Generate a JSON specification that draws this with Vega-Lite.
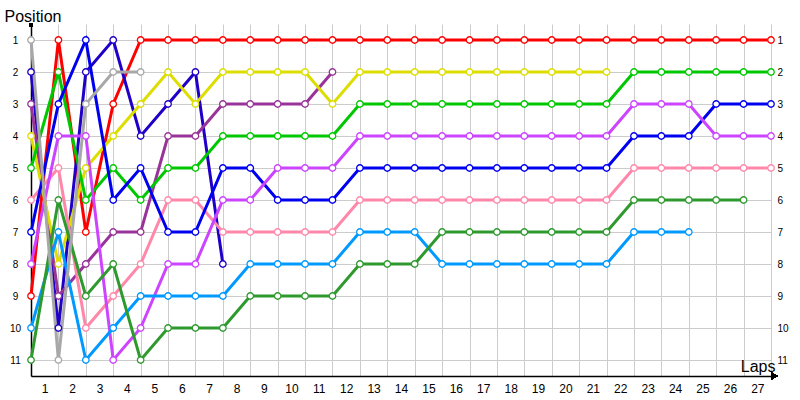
{
  "$schema": "https://vega.github.io/schema/vega-lite/v6.json",
  "width": 740,
  "height": 352,
  "autosize": "none",
  "padding": {"left": 31, "top": 24, "right": 29, "bottom": 24},
  "background": "white",
  "config": {"view": {"stroke": null}, "font": "Liberation Sans"},
  "data": {"values": [
    {"driver":"Red","lap":0,"pos":9},{"driver":"Red","lap":1,"pos":1},{"driver":"Red","lap":2,"pos":7},{"driver":"Red","lap":3,"pos":3},{"driver":"Red","lap":4,"pos":1},{"driver":"Red","lap":5,"pos":1},{"driver":"Red","lap":6,"pos":1},{"driver":"Red","lap":7,"pos":1},{"driver":"Red","lap":8,"pos":1},{"driver":"Red","lap":9,"pos":1},{"driver":"Red","lap":10,"pos":1},{"driver":"Red","lap":11,"pos":1},{"driver":"Red","lap":12,"pos":1},{"driver":"Red","lap":13,"pos":1},{"driver":"Red","lap":14,"pos":1},{"driver":"Red","lap":15,"pos":1},{"driver":"Red","lap":16,"pos":1},{"driver":"Red","lap":17,"pos":1},{"driver":"Red","lap":18,"pos":1},{"driver":"Red","lap":19,"pos":1},{"driver":"Red","lap":20,"pos":1},{"driver":"Red","lap":21,"pos":1},{"driver":"Red","lap":22,"pos":1},{"driver":"Red","lap":23,"pos":1},{"driver":"Red","lap":24,"pos":1},{"driver":"Red","lap":25,"pos":1},{"driver":"Red","lap":26,"pos":1},{"driver":"Red","lap":27,"pos":1},
    {"driver":"Navy","lap":0,"pos":2},{"driver":"Navy","lap":1,"pos":10},{"driver":"Navy","lap":2,"pos":2},{"driver":"Navy","lap":3,"pos":1},{"driver":"Navy","lap":4,"pos":4},{"driver":"Navy","lap":5,"pos":3},{"driver":"Navy","lap":6,"pos":2},{"driver":"Navy","lap":7,"pos":8},
    {"driver":"Purple","lap":0,"pos":3},{"driver":"Purple","lap":1,"pos":9},{"driver":"Purple","lap":2,"pos":8},{"driver":"Purple","lap":3,"pos":7},{"driver":"Purple","lap":4,"pos":7},{"driver":"Purple","lap":5,"pos":4},{"driver":"Purple","lap":6,"pos":4},{"driver":"Purple","lap":7,"pos":3},{"driver":"Purple","lap":8,"pos":3},{"driver":"Purple","lap":9,"pos":3},{"driver":"Purple","lap":10,"pos":3},{"driver":"Purple","lap":11,"pos":2},
    {"driver":"Yellow","lap":0,"pos":4},{"driver":"Yellow","lap":1,"pos":8},{"driver":"Yellow","lap":2,"pos":5},{"driver":"Yellow","lap":3,"pos":4},{"driver":"Yellow","lap":4,"pos":3},{"driver":"Yellow","lap":5,"pos":2},{"driver":"Yellow","lap":6,"pos":3},{"driver":"Yellow","lap":7,"pos":2},{"driver":"Yellow","lap":8,"pos":2},{"driver":"Yellow","lap":9,"pos":2},{"driver":"Yellow","lap":10,"pos":2},{"driver":"Yellow","lap":11,"pos":3},{"driver":"Yellow","lap":12,"pos":2},{"driver":"Yellow","lap":13,"pos":2},{"driver":"Yellow","lap":14,"pos":2},{"driver":"Yellow","lap":15,"pos":2},{"driver":"Yellow","lap":16,"pos":2},{"driver":"Yellow","lap":17,"pos":2},{"driver":"Yellow","lap":18,"pos":2},{"driver":"Yellow","lap":19,"pos":2},{"driver":"Yellow","lap":20,"pos":2},{"driver":"Yellow","lap":21,"pos":2},
    {"driver":"Green","lap":0,"pos":5},{"driver":"Green","lap":1,"pos":2},{"driver":"Green","lap":2,"pos":6},{"driver":"Green","lap":3,"pos":5},{"driver":"Green","lap":4,"pos":6},{"driver":"Green","lap":5,"pos":5},{"driver":"Green","lap":6,"pos":5},{"driver":"Green","lap":7,"pos":4},{"driver":"Green","lap":8,"pos":4},{"driver":"Green","lap":9,"pos":4},{"driver":"Green","lap":10,"pos":4},{"driver":"Green","lap":11,"pos":4},{"driver":"Green","lap":12,"pos":3},{"driver":"Green","lap":13,"pos":3},{"driver":"Green","lap":14,"pos":3},{"driver":"Green","lap":15,"pos":3},{"driver":"Green","lap":16,"pos":3},{"driver":"Green","lap":17,"pos":3},{"driver":"Green","lap":18,"pos":3},{"driver":"Green","lap":19,"pos":3},{"driver":"Green","lap":20,"pos":3},{"driver":"Green","lap":21,"pos":3},{"driver":"Green","lap":22,"pos":2},{"driver":"Green","lap":23,"pos":2},{"driver":"Green","lap":24,"pos":2},{"driver":"Green","lap":25,"pos":2},{"driver":"Green","lap":26,"pos":2},{"driver":"Green","lap":27,"pos":2},
    {"driver":"Pink","lap":0,"pos":6},{"driver":"Pink","lap":1,"pos":5},{"driver":"Pink","lap":2,"pos":10},{"driver":"Pink","lap":3,"pos":9},{"driver":"Pink","lap":4,"pos":8},{"driver":"Pink","lap":5,"pos":6},{"driver":"Pink","lap":6,"pos":6},{"driver":"Pink","lap":7,"pos":7},{"driver":"Pink","lap":8,"pos":7},{"driver":"Pink","lap":9,"pos":7},{"driver":"Pink","lap":10,"pos":7},{"driver":"Pink","lap":11,"pos":7},{"driver":"Pink","lap":12,"pos":6},{"driver":"Pink","lap":13,"pos":6},{"driver":"Pink","lap":14,"pos":6},{"driver":"Pink","lap":15,"pos":6},{"driver":"Pink","lap":16,"pos":6},{"driver":"Pink","lap":17,"pos":6},{"driver":"Pink","lap":18,"pos":6},{"driver":"Pink","lap":19,"pos":6},{"driver":"Pink","lap":20,"pos":6},{"driver":"Pink","lap":21,"pos":6},{"driver":"Pink","lap":22,"pos":5},{"driver":"Pink","lap":23,"pos":5},{"driver":"Pink","lap":24,"pos":5},{"driver":"Pink","lap":25,"pos":5},{"driver":"Pink","lap":26,"pos":5},{"driver":"Pink","lap":27,"pos":5},
    {"driver":"Blue","lap":0,"pos":7},{"driver":"Blue","lap":1,"pos":3},{"driver":"Blue","lap":2,"pos":1},{"driver":"Blue","lap":3,"pos":6},{"driver":"Blue","lap":4,"pos":5},{"driver":"Blue","lap":5,"pos":7},{"driver":"Blue","lap":6,"pos":7},{"driver":"Blue","lap":7,"pos":5},{"driver":"Blue","lap":8,"pos":5},{"driver":"Blue","lap":9,"pos":6},{"driver":"Blue","lap":10,"pos":6},{"driver":"Blue","lap":11,"pos":6},{"driver":"Blue","lap":12,"pos":5},{"driver":"Blue","lap":13,"pos":5},{"driver":"Blue","lap":14,"pos":5},{"driver":"Blue","lap":15,"pos":5},{"driver":"Blue","lap":16,"pos":5},{"driver":"Blue","lap":17,"pos":5},{"driver":"Blue","lap":18,"pos":5},{"driver":"Blue","lap":19,"pos":5},{"driver":"Blue","lap":20,"pos":5},{"driver":"Blue","lap":21,"pos":5},{"driver":"Blue","lap":22,"pos":4},{"driver":"Blue","lap":23,"pos":4},{"driver":"Blue","lap":24,"pos":4},{"driver":"Blue","lap":25,"pos":3},{"driver":"Blue","lap":26,"pos":3},{"driver":"Blue","lap":27,"pos":3},
    {"driver":"Violet","lap":0,"pos":8},{"driver":"Violet","lap":1,"pos":4},{"driver":"Violet","lap":2,"pos":4},{"driver":"Violet","lap":3,"pos":11},{"driver":"Violet","lap":4,"pos":10},{"driver":"Violet","lap":5,"pos":8},{"driver":"Violet","lap":6,"pos":8},{"driver":"Violet","lap":7,"pos":6},{"driver":"Violet","lap":8,"pos":6},{"driver":"Violet","lap":9,"pos":5},{"driver":"Violet","lap":10,"pos":5},{"driver":"Violet","lap":11,"pos":5},{"driver":"Violet","lap":12,"pos":4},{"driver":"Violet","lap":13,"pos":4},{"driver":"Violet","lap":14,"pos":4},{"driver":"Violet","lap":15,"pos":4},{"driver":"Violet","lap":16,"pos":4},{"driver":"Violet","lap":17,"pos":4},{"driver":"Violet","lap":18,"pos":4},{"driver":"Violet","lap":19,"pos":4},{"driver":"Violet","lap":20,"pos":4},{"driver":"Violet","lap":21,"pos":4},{"driver":"Violet","lap":22,"pos":3},{"driver":"Violet","lap":23,"pos":3},{"driver":"Violet","lap":24,"pos":3},{"driver":"Violet","lap":25,"pos":4},{"driver":"Violet","lap":26,"pos":4},{"driver":"Violet","lap":27,"pos":4},
    {"driver":"LightBlue","lap":0,"pos":10},{"driver":"LightBlue","lap":1,"pos":7},{"driver":"LightBlue","lap":2,"pos":11},{"driver":"LightBlue","lap":3,"pos":10},{"driver":"LightBlue","lap":4,"pos":9},{"driver":"LightBlue","lap":5,"pos":9},{"driver":"LightBlue","lap":6,"pos":9},{"driver":"LightBlue","lap":7,"pos":9},{"driver":"LightBlue","lap":8,"pos":8},{"driver":"LightBlue","lap":9,"pos":8},{"driver":"LightBlue","lap":10,"pos":8},{"driver":"LightBlue","lap":11,"pos":8},{"driver":"LightBlue","lap":12,"pos":7},{"driver":"LightBlue","lap":13,"pos":7},{"driver":"LightBlue","lap":14,"pos":7},{"driver":"LightBlue","lap":15,"pos":8},{"driver":"LightBlue","lap":16,"pos":8},{"driver":"LightBlue","lap":17,"pos":8},{"driver":"LightBlue","lap":18,"pos":8},{"driver":"LightBlue","lap":19,"pos":8},{"driver":"LightBlue","lap":20,"pos":8},{"driver":"LightBlue","lap":21,"pos":8},{"driver":"LightBlue","lap":22,"pos":7},{"driver":"LightBlue","lap":23,"pos":7},{"driver":"LightBlue","lap":24,"pos":7},
    {"driver":"DarkGreen","lap":0,"pos":11},{"driver":"DarkGreen","lap":1,"pos":6},{"driver":"DarkGreen","lap":2,"pos":9},{"driver":"DarkGreen","lap":3,"pos":8},{"driver":"DarkGreen","lap":4,"pos":11},{"driver":"DarkGreen","lap":5,"pos":10},{"driver":"DarkGreen","lap":6,"pos":10},{"driver":"DarkGreen","lap":7,"pos":10},{"driver":"DarkGreen","lap":8,"pos":9},{"driver":"DarkGreen","lap":9,"pos":9},{"driver":"DarkGreen","lap":10,"pos":9},{"driver":"DarkGreen","lap":11,"pos":9},{"driver":"DarkGreen","lap":12,"pos":8},{"driver":"DarkGreen","lap":13,"pos":8},{"driver":"DarkGreen","lap":14,"pos":8},{"driver":"DarkGreen","lap":15,"pos":7},{"driver":"DarkGreen","lap":16,"pos":7},{"driver":"DarkGreen","lap":17,"pos":7},{"driver":"DarkGreen","lap":18,"pos":7},{"driver":"DarkGreen","lap":19,"pos":7},{"driver":"DarkGreen","lap":20,"pos":7},{"driver":"DarkGreen","lap":21,"pos":7},{"driver":"DarkGreen","lap":22,"pos":6},{"driver":"DarkGreen","lap":23,"pos":6},{"driver":"DarkGreen","lap":24,"pos":6},{"driver":"DarkGreen","lap":25,"pos":6},{"driver":"DarkGreen","lap":26,"pos":6},
    {"driver":"Gray","lap":0,"pos":1},{"driver":"Gray","lap":1,"pos":11},{"driver":"Gray","lap":2,"pos":3},{"driver":"Gray","lap":3,"pos":2},{"driver":"Gray","lap":4,"pos":2}
  ]},
  "layer": [
    {
      "mark": {"type": "line", "strokeWidth": 3, "strokeJoin": "miter"},
      "encoding": {
        "x": {"field": "lap", "type": "quantitative",
          "scale": {"domain": [0, 27], "nice": false, "zero": false},
          "axis": {"orient": "bottom", "values": [0,1,2,3,4,5,6,7,8,9,10,11,12,13,14,15,16,17,18,19,20,21,22,23,24,25,26,27],
            "labelExpr": "datum.value == 0 ? '' : datum.label", "labelOffset": -13.7, "labelPadding": 7,
            "labelFontSize": 12, "labelColor": "black", "labelFlush": false, "labelOverlap": false,
            "ticks": false, "grid": true, "gridColor": "#cccccc", "gridWidth": 1,
            "domain": true, "domainColor": "black", "domainWidth": 1.5,
            "title": "Laps", "titleFontSize": 16, "titleFontWeight": "normal", "titleColor": "black",
            "titleAlign": "right", "titleAnchor": null, "titleX": 744, "titleY": -5, "titleBaseline": "alphabetic"}},
        "y": {"field": "pos", "type": "quantitative",
          "scale": {"domain": [0.5, 11.5], "reverse": true, "nice": false, "zero": false},
          "axis": {"orient": "left", "values": [1,2,3,4,5,6,7,8,9,10,11],
            "labelAlign": "center", "labelPadding": 16, "labelFontSize": 10, "labelColor": "black",
            "ticks": false, "grid": true, "gridColor": "#cccccc", "gridWidth": 1,
            "domain": true, "domainColor": "black", "domainWidth": 1.5,
            "title": "Position", "titleAngle": 0, "titleFontSize": 16, "titleFontWeight": "normal", "titleColor": "black",
            "titleAlign": "left", "titleAnchor": null, "titleX": -27, "titleY": -3, "titleBaseline": "alphabetic"}},
        "color": {"field": "driver", "type": "nominal", "legend": null,
          "scale": {"domain": ["DarkGreen","LightBlue","Violet","Blue","Pink","Green","Yellow","Purple","Navy","Red","Gray"],
                    "range": ["#2e9a2e","#0099ff","#cc44ff","#0000f0","#ff88aa","#00c800","#dddd00","#993399","#2000c8","#ff0000","#a8a8a8"]}},
        "order": {"field": "lap", "type": "quantitative"}
      }
    },
    {
      "mark": {"type": "point", "filled": false, "fill": "white", "fillOpacity": 1, "opacity": 1, "size": 42, "strokeWidth": 1.3},
      "encoding": {
        "x": {"field": "lap", "type": "quantitative", "axis": null},
        "y": {"field": "pos", "type": "quantitative", "axis": {"orient": "right", "values": [1,2,3,4,5,6,7,8,9,10,11],
            "labelAlign": "left", "labelPadding": 6, "labelFontSize": 10, "labelColor": "black",
            "ticks": false, "grid": false, "domain": false, "title": null}},
        "color": {"field": "driver", "type": "nominal", "legend": null}
      }
    },
    {
      "mark": {"type": "point", "filled": true, "color": "black", "opacity": 1, "size": 16, "shape": "circle"},
      "encoding": {
        "x": {"datum": 0, "type": "quantitative", "axis": null},
        "y": {"datum": 0.53, "type": "quantitative", "axis": null}
      }
    },
    {
      "mark": {"type": "point", "filled": true, "color": "black", "opacity": 1, "size": 50, "shape": "triangle-right"},
      "encoding": {
        "x": {"datum": 27.12, "type": "quantitative", "axis": null},
        "y": {"datum": 11.5, "type": "quantitative", "axis": null}
      }
    }
  ],
  "resolve": {"axis": {"x": "independent", "y": "independent"}}
}
